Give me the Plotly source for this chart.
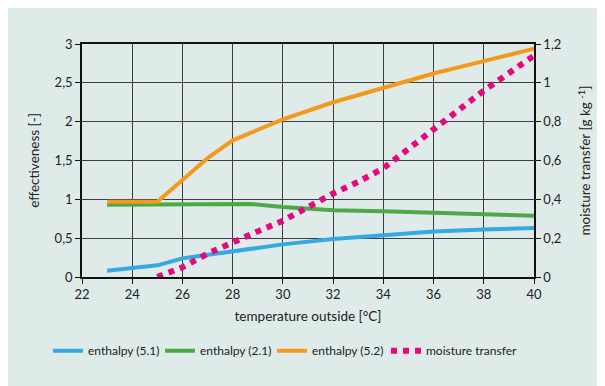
import plotly.graph_objects as go

# ---- data ----
temp_51 = [23, 24, 25, 26, 27, 28, 29, 30, 32, 34, 36, 38, 40]
enthalpy_51 = [0.08, 0.12, 0.15, 0.24, 0.285, 0.33, 0.375, 0.42, 0.49, 0.54, 0.585, 0.61, 0.63]

temp_21 = [23, 25, 28.7, 30, 32, 34, 36, 38, 40]
enthalpy_21 = [0.93, 0.93, 0.94, 0.90, 0.86, 0.845, 0.825, 0.81, 0.79]

temp_52 = [23, 25, 26, 27, 28, 29, 30, 32, 34, 36, 38, 40]
enthalpy_52 = [0.97, 0.97, 1.25, 1.53, 1.76, 1.90, 2.03, 2.25, 2.43, 2.62, 2.78, 2.94]

temp_moist = [25, 26, 27, 28, 29, 30, 31, 32, 33, 34, 36, 38, 40]
moisture = [0.0, 0.05, 0.12, 0.18, 0.235, 0.29, 0.36, 0.43, 0.49, 0.56, 0.76, 0.96, 1.14]

x_ticks = [22, 24, 26, 28, 30, 32, 34, 36, 38, 40]

BG = "#DFEBE8"
FONT = "Lato"
FIG_W, FIG_H = 597, 378

fig = go.Figure()
fig.add_trace(go.Scatter(x=temp_51, y=enthalpy_51, mode="lines", name="enthalpy (5.1)",
                         line=dict(color="#36A9E1", width=4), legend="legend"))
fig.add_trace(go.Scatter(x=temp_21, y=enthalpy_21, mode="lines", name="enthalpy (2.1)",
                         line=dict(color="#4BA946", width=4), legend="legend2"))
fig.add_trace(go.Scatter(x=temp_52, y=enthalpy_52, mode="lines", name="enthalpy (5.2)",
                         line=dict(color="#F39A1E", width=4), legend="legend3"))
fig.add_trace(go.Scatter(x=temp_moist, y=moisture, mode="lines", name="moisture transfer",
                         yaxis="y2", line=dict(color="#E5097F", width=6, dash="dot"), legend="legend4"))

axis_common = dict(
    showline=True, linecolor="#111111", linewidth=1.5,
    ticks="outside", ticklen=5, tickcolor="#111111", tickwidth=1.2,
    tickfont=dict(family=FONT, size=13, color="#222222"),
    zeroline=False,
)


def legend_at(page_x):
    return dict(orientation="h", xref="container", yref="container",
                x=(page_x - 8) / FIG_W, xanchor="left",
                y=(FIG_H - 342.7) / FIG_H, yanchor="middle",
                font=dict(family=FONT, size=12, color="#222222"),
                bgcolor="rgba(0,0,0,0)", itemwidth=30)


fig.update_layout(
    width=FIG_W, height=FIG_H,
    paper_bgcolor=BG, plot_bgcolor=BG,
    separators=", ",
    font=dict(family=FONT, size=13, color="#222222"),
    margin=dict(l=74, r=71, t=36, b=109, autoexpand=False),
    xaxis=dict(range=[22, 40], tickvals=x_ticks, showgrid=True, gridcolor="#3c3f3f", gridwidth=1.4,
               mirror=True,
               title=dict(text="temperature outside [°C]", font=dict(family=FONT, size=13.5), standoff=10),
               **axis_common),
    yaxis=dict(range=[0, 3], dtick=0.5, showgrid=True, gridcolor="#3c3f3f", gridwidth=1.4,
               title=dict(text="effectiveness [-]", font=dict(family=FONT, size=13.5), standoff=12),
               **axis_common),
    yaxis2=dict(range=[0, 1.2], dtick=0.2, overlaying="y", side="right", showgrid=False,
                title=dict(text="moisture transfer [g kg <sup>-1</sup>]", font=dict(family=FONT, size=13.5), standoff=20),
                **axis_common),
    legend=legend_at(48),
    legend2=legend_at(160),
    legend3=legend_at(272),
    legend4=legend_at(386),
    showlegend=True,
)

fig.write_html("out.html")
